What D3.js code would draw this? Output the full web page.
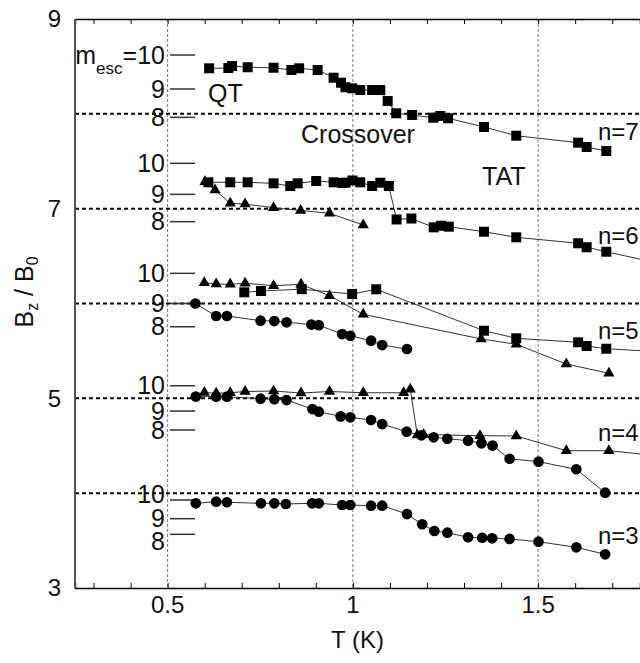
<!DOCTYPE html>
<html>
<head>
<meta charset="utf-8">
<script src="https://cdn.jsdelivr.net/npm/d3@7"></script>
<style>
  body { margin: 0; background: #fff; }
  svg { display: block; font-family: "Liberation Sans", Arial, Helvetica, sans-serif; }
</style>
</head>
<body>
<svg id="chart" width="640" height="663"></svg>
<script>
// ---- Data: temperature T (K) and field B_z/B_0 for each resonance n ----
// n = 7, squares
const T_n7_sq = [0.612, 0.664, 0.674, 0.716, 0.786, 0.834, 0.855, 0.905, 0.948, 0.968, 0.980, 0.998, 1.020, 1.052, 1.074, 1.094, 1.117, 1.160, 1.217, 1.236, 1.257, 1.354, 1.441, 1.608, 1.631, 1.684];
const B_n7_sq = [8.480, 8.483, 8.504, 8.491, 8.486, 8.462, 8.480, 8.462, 8.381, 8.328, 8.280, 8.269, 8.251, 8.251, 8.251, 8.135, 8.006, 7.988, 7.959, 7.977, 7.953, 7.861, 7.769, 7.696, 7.650, 7.608];
// n = 6, squares
const T_n6_sq = [0.610, 0.669, 0.716, 0.786, 0.831, 0.851, 0.901, 0.948, 0.971, 0.980, 0.999, 1.020, 1.052, 1.074, 1.097, 1.118, 1.158, 1.218, 1.238, 1.259, 1.354, 1.441, 1.608, 1.631, 1.684, 1.800];
const B_n6_sq = [7.278, 7.278, 7.278, 7.267, 7.239, 7.267, 7.292, 7.278, 7.271, 7.274, 7.297, 7.278, 7.239, 7.274, 7.239, 6.886, 6.896, 6.803, 6.820, 6.810, 6.757, 6.698, 6.635, 6.593, 6.546, 6.446];
// n = 6, triangles
const T_n6_tri = [0.601, 0.628, 0.669, 0.709, 0.786, 0.859, 0.937, 1.028];
const B_n6_tri = [7.284, 7.197, 7.057, 7.049, 7.010, 6.981, 6.951, 6.828];
// n = 5, triangles
const T_n5_tri = [0.599, 0.631, 0.669, 0.709, 0.786, 0.860, 0.937, 1.028, 1.346, 1.441, 1.576, 1.691];
const B_n5_tri = [6.219, 6.206, 6.202, 6.213, 6.188, 6.202, 6.082, 5.886, 5.626, 5.570, 5.362, 5.264];
// n = 5, squares
const T_n5_sq = [0.707, 0.752, 0.862, 0.998, 1.063, 1.354, 1.441, 1.608, 1.631, 1.684, 1.800];
const B_n5_sq = [6.118, 6.132, 6.151, 6.100, 6.150, 5.713, 5.633, 5.591, 5.552, 5.523, 5.497];
// n = 5, circles
const T_n5_ci = [0.575, 0.631, 0.660, 0.751, 0.788, 0.821, 0.888, 0.908, 0.971, 0.993, 1.049, 1.079, 1.146];
const B_n5_ci = [6.000, 5.868, 5.868, 5.819, 5.815, 5.802, 5.778, 5.771, 5.678, 5.660, 5.608, 5.562, 5.520];
// n = 4, triangles
const T_n4_tri = [0.599, 0.631, 0.669, 0.709, 0.786, 0.860, 0.937, 1.028, 1.137, 1.155, 1.174, 1.191, 1.343, 1.441, 1.576, 1.691, 1.800];
const B_n4_tri = [5.062, 5.053, 5.059, 5.072, 5.077, 5.056, 5.072, 5.059, 5.059, 5.095, 4.613, 4.618, 4.606, 4.603, 4.448, 4.448, 4.403];
// n = 4, circles
const T_n4_ci = [0.576, 0.631, 0.660, 0.751, 0.788, 0.821, 0.891, 0.908, 0.967, 0.993, 1.049, 1.079, 1.145, 1.185, 1.218, 1.255, 1.311, 1.347, 1.377, 1.423, 1.501, 1.603, 1.681];
const B_n4_ci = [5.019, 5.017, 5.017, 4.996, 4.991, 4.982, 4.887, 4.859, 4.810, 4.800, 4.771, 4.729, 4.648, 4.610, 4.589, 4.574, 4.553, 4.526, 4.502, 4.363, 4.332, 4.252, 4.005];
// n = 3, circles
const T_n3_ci = [0.576, 0.631, 0.660, 0.752, 0.788, 0.819, 0.890, 0.908, 0.971, 0.993, 1.049, 1.079, 1.146, 1.187, 1.220, 1.255, 1.311, 1.349, 1.376, 1.423, 1.501, 1.603, 1.681];
const B_n3_ci = [3.893, 3.910, 3.904, 3.893, 3.893, 3.886, 3.893, 3.893, 3.875, 3.875, 3.868, 3.868, 3.780, 3.672, 3.601, 3.583, 3.535, 3.530, 3.524, 3.517, 3.488, 3.429, 3.355];

// m_esc scale markers for each resonance (B_z/B_0 position of m_esc = 10, 9, 8)
const mescLabels = ["10", "9", "8"];
const mescLevels = [
  [8.620, 8.262, 7.963],   // n = 7
  [7.478, 7.151, 6.863],   // n = 6
  [6.318, 6.000, 5.755],   // n = 5
  [5.133, 4.866, 4.666],   // n = 4
  [3.928, 3.731, 3.566]    // n = 3
];
const resonanceNames = ["n=7", "n=6", "n=5", "n=4", "n=3"];

// axis ticks
const xMajorTicks = [0.5, 1, 1.5];
const xTickLabels = ["0.5", "1", "1.5"];
const yTickValues = [3, 5, 7, 9];
const yTickLabels = ["3", "5", "7", "9"];
const yGridValues = [4, 5, 6, 7, 8];

// ---- Layout ----
const svg = d3.select("#chart");
const L = 75, R = 640, Tp = 19, Bt = 588;
const x = d3.scaleLinear().domain([0.25, 1.775]).range([L, R]);
const y = d3.scaleLinear().domain([3, 9]).range([Bt, Tp]);
const FONT = 24;

svg.append("defs").append("clipPath").attr("id", "plotClip")
  .append("rect").attr("x", L).attr("y", Tp).attr("width", R - L).attr("height", Bt - Tp);

// vertical grid (dashed, grey)
svg.append("g").selectAll("line").data(xMajorTicks).join("line")
  .attr("x1", d => x(d)).attr("x2", d => x(d))
  .attr("y1", Tp).attr("y2", Bt)
  .attr("stroke", "#777").attr("stroke-width", 1).attr("stroke-dasharray", "3,2");

// horizontal grid (dotted, black)
svg.append("g").selectAll("line").data(yGridValues).join("line")
  .attr("x1", L).attr("x2", R)
  .attr("y1", d => y(d)).attr("y2", d => y(d))
  .attr("stroke", "#000").attr("stroke-width", 2).attr("stroke-dasharray", "4,3");

// frame: top and bottom axes with 0.1 K minor ticks pointing inward
const minorTicks = d3.range(0.3, 1.76, 0.1).map(v => +v.toFixed(2));
const gBottom = svg.append("g").attr("transform", `translate(0,${Bt})`)
  .call(d3.axisBottom(x).tickValues(minorTicks).tickSize(-5).tickFormat(""));
const gTop = svg.append("g").attr("transform", `translate(0,${Tp})`)
  .call(d3.axisTop(x).tickValues(minorTicks).tickSize(-5).tickFormat(""));
[gBottom, gTop].forEach(g => {
  g.select(".domain").attr("stroke", "#000").attr("stroke-width", 1.5);
  g.selectAll(".tick line").attr("stroke", "#000").attr("stroke-width", 1);
});
// left axis line (grey)
svg.append("line").attr("x1", L).attr("x2", L).attr("y1", Tp).attr("y2", Bt)
  .attr("stroke", "#555").attr("stroke-width", 2);

// x tick labels
svg.append("g").selectAll("text").data(xMajorTicks).join("text")
  .attr("x", d => x(d)).attr("y", Bt + 25)
  .attr("text-anchor", "middle").attr("font-size", FONT).attr("fill", "#111")
  .text((d, i) => xTickLabels[i]);

// y tick labels
svg.append("g").selectAll("text").data(yTickValues).join("text")
  .attr("x", 61).attr("y", d => y(d)).attr("dy", "0.35em")
  .attr("text-anchor", "end").attr("font-size", FONT).attr("fill", "#111")
  .text((d, i) => yTickLabels[i]);

// axis titles
svg.append("text").attr("x", (L + R) / 2).attr("y", 648)
  .attr("text-anchor", "middle").attr("font-size", FONT).attr("fill", "#111")
  .text("T (K)");
const yt = svg.append("text").attr("transform", "translate(33,292) rotate(-90)")
  .attr("text-anchor", "middle").attr("font-size", FONT + 1).attr("fill", "#111");
yt.append("tspan").text("B");
yt.append("tspan").attr("font-size", 16).attr("dy", 5).text("z");
yt.append("tspan").attr("dy", -5).text(" / B");
yt.append("tspan").attr("font-size", 16).attr("dy", 5).text("0");

// m_esc scales
const labelShift = [[0, 0, 0], [0, 0, 0], [0, 0, 0], [0, 0, 0], [-6, 0, 7]];
mescLevels.forEach((levels, gi) => {
  const g = svg.append("g");
  g.selectAll("line").data(levels).join("line")
    .attr("x1", 170).attr("x2", 195)
    .attr("y1", d => y(d)).attr("y2", d => y(d))
    .attr("stroke", "#333").attr("stroke-width", 1.5);
  levels.forEach((v, li) => {
    const t = g.append("text").attr("x", 165).attr("y", y(v) + labelShift[gi][li])
      .attr("dy", "0.35em").attr("text-anchor", "end")
      .attr("font-size", FONT + 1).attr("fill", "#111");
    if (gi === 0 && li === 0) {
      t.append("tspan").text("m");
      t.append("tspan").attr("font-size", 17).attr("dy", 10).text("esc");
      t.append("tspan").attr("dy", -10).text("=" + mescLabels[li]);
    } else {
      t.text(mescLabels[li]);
    }
  });
});

// series
const series = [
  { T: T_n7_sq, B: B_n7_sq, shape: d3.symbolSquare },
  { T: T_n6_sq, B: B_n6_sq, shape: d3.symbolSquare },
  { T: T_n6_tri, B: B_n6_tri, shape: d3.symbolTriangle },
  { T: T_n5_tri, B: B_n5_tri, shape: d3.symbolTriangle },
  { T: T_n5_sq, B: B_n5_sq, shape: d3.symbolSquare },
  { T: T_n5_ci, B: B_n5_ci, shape: d3.symbolCircle },
  { T: T_n4_tri, B: B_n4_tri, shape: d3.symbolTriangle },
  { T: T_n4_ci, B: B_n4_ci, shape: d3.symbolCircle },
  { T: T_n3_ci, B: B_n3_ci, shape: d3.symbolCircle }
];
const symSize = new Map([[d3.symbolSquare, 100], [d3.symbolTriangle, 55], [d3.symbolCircle, 90]]);
const plot = svg.append("g").attr("clip-path", "url(#plotClip)");
const line = d3.line().x(d => x(d[0])).y(d => y(d[1]));
series.forEach(s => {
  const pts = s.T.map((t, i) => [t, s.B[i]]);
  plot.append("path").datum(pts).attr("d", line)
    .attr("fill", "none").attr("stroke", "#333").attr("stroke-width", 1);
});
series.forEach(s => {
  const pts = s.T.map((t, i) => [t, s.B[i]]);
  const sym = d3.symbol().type(s.shape).size(symSize.get(s.shape));
  plot.append("g").selectAll("path").data(pts).join("path")
    .attr("transform", d => `translate(${x(d[0])},${y(d[1])})`)
    .attr("d", sym).attr("fill", "#000");
});

// region annotations
const ann = svg.append("g").attr("font-size", FONT + 1).attr("fill", "#111");
ann.append("text").attr("x", 208).attr("y", 102).text("QT");
ann.append("text").attr("x", 301).attr("y", 143).text("Crossover");
ann.append("text").attr("x", 482).attr("y", 185).text("TAT");

// resonance labels
const nLabelBaselines = [140, 244, 339, 441, 544];
svg.append("g").selectAll("text").data(resonanceNames).join("text")
  .attr("x", 598).attr("y", (d, i) => nLabelBaselines[i])
  .attr("font-size", FONT).attr("fill", "#111")
  .text(d => d);
</script>
</body>
</html>
